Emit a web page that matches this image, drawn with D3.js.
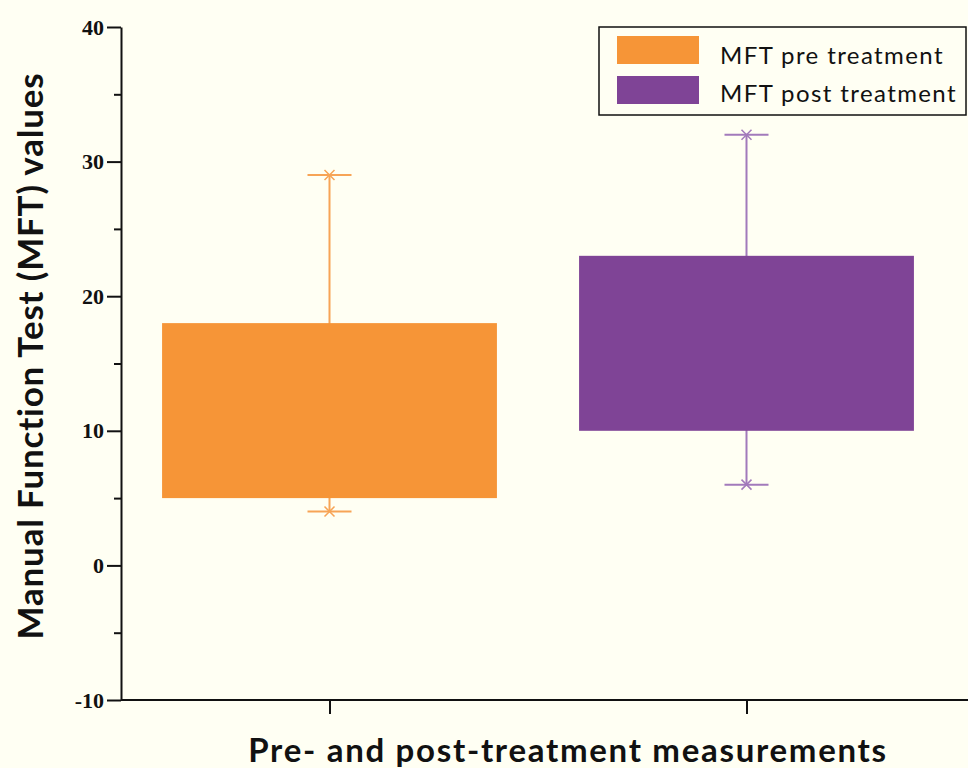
<!DOCTYPE html>
<html>
<head>
<meta charset="utf-8">
<script src="https://cdn.jsdelivr.net/npm/d3@7.9.0/dist/d3.min.js"></script>
<style>
  body { margin: 0; background: #fffff3; }
  svg { display: block; }
</style>
</head>
<body>
<svg id="chart" width="968" height="768"></svg>
<script>
// Data
const categories = ['MFT pre treatment', 'MFT post treatment'];
const boxLow = [5, 10];
const boxHigh = [18, 23];
const whiskerLow = [4, 6];
const whiskerHigh = [29, 32];
const colors = ['#f69537', '#7f4496'];
const whiskerColors = ['#f7a456', '#a27abb'];
const yTicks = [-10, 0, 10, 20, 30, 40];
const yMinorTicks = [-5, 5, 15, 25, 35];

const svg = d3.select('#chart');

// Scales
const y = d3.scaleLinear().domain([-10, 40]).range([700, 27]);
const x = d3.scalePoint().domain(categories).range([121, 955]).padding(0.5);
const barWidth = x.step() * 0.803;
const capWidth = 44;

// Boxes
categories.forEach((c, i) => {
  const cx = x(c);
  const g = svg.append('g');

  // whisker line
  g.append('line')
    .attr('x1', cx).attr('x2', cx)
    .attr('y1', y(whiskerLow[i])).attr('y2', y(whiskerHigh[i]))
    .attr('stroke', whiskerColors[i])
    .attr('stroke-width', 2);

  // caps with x marker
  [whiskerLow[i], whiskerHigh[i]].forEach((v) => {
    const cy = y(v);
    g.append('line')
      .attr('x1', cx - capWidth / 2).attr('x2', cx + capWidth / 2)
      .attr('y1', cy).attr('y2', cy)
      .attr('stroke', whiskerColors[i]).attr('stroke-width', 2);
    g.append('path')
      .attr('d', `M${cx - 5},${cy - 5}L${cx + 5},${cy + 5}M${cx - 5},${cy + 5}L${cx + 5},${cy - 5}`)
      .attr('stroke', whiskerColors[i]).attr('stroke-width', 1.5);
  });

  // box
  g.append('rect')
    .attr('x', cx - barWidth / 2)
    .attr('width', barWidth)
    .attr('y', y(boxHigh[i]))
    .attr('height', y(boxLow[i]) - y(boxHigh[i]))
    .attr('fill', colors[i]);
});

// Y axis
const yAxis = svg.append('g')
  .attr('transform', 'translate(121,0)')
  .call(d3.axisLeft(y).tickValues(yTicks).tickFormat((d) => String(d))
    .tickSize(14).tickPadding(3).tickSizeOuter(0));
yAxis.selectAll('text')
  .attr('font-family', '"Liberation Serif", serif')
  .attr('font-weight', 'bold')
  .attr('font-size', 22)
  .attr('fill', '#111');

svg.append('g')
  .attr('transform', 'translate(121,0)')
  .call(d3.axisLeft(y).tickValues(yMinorTicks).tickSize(7).tickFormat('').tickSizeOuter(0))
  .select('.domain').remove();

// X axis
const xAxis = svg.append('g')
  .attr('transform', 'translate(0,700)')
  .call(d3.axisBottom(x).tickSize(14).tickFormat('').tickSizeOuter(0));
xAxis.select('.domain').attr('d', 'M121,0H968');

svg.selectAll('.domain, .tick line')
  .attr('stroke', '#111')
  .attr('stroke-width', 2);

// Axis titles
svg.append('text')
  .attr('x', 568)
  .attr('y', 762)
  .attr('text-anchor', 'middle')
  .attr('font-family', 'Lato, sans-serif')
  .attr('font-weight', 'bold')
  .attr('font-size', 33)
  .attr('letter-spacing', 1.7)
  .attr('fill', '#111')
  .text('Pre- and post-treatment measurements');

svg.append('text')
  .attr('transform', 'translate(43,356) rotate(-90)')
  .attr('text-anchor', 'middle')
  .attr('font-family', 'Lato, sans-serif')
  .attr('font-weight', 'bold')
  .attr('font-size', 35)
  .attr('letter-spacing', 0.8)
  .attr('fill', '#111')
  .text('Manual Function Test (MFT) values');

// Legend
const legend = svg.append('g');
legend.append('rect')
  .attr('x', 599).attr('y', 27)
  .attr('width', 367).attr('height', 88)
  .attr('fill', 'none')
  .attr('stroke', '#111')
  .attr('stroke-width', 1.5);

categories.forEach((c, i) => {
  legend.append('rect')
    .attr('x', 617).attr('y', 36 + i * 40)
    .attr('width', 82).attr('height', 28)
    .attr('fill', colors[i]);
  legend.append('text')
    .attr('x', 720).attr('y', 64 + i * 38)
    .attr('font-family', 'Lato, sans-serif')
    .attr('font-size', 24)
    .attr('letter-spacing', 1.4)
    .attr('fill', '#111')
    .text(c);
});
</script>
</body>
</html>
